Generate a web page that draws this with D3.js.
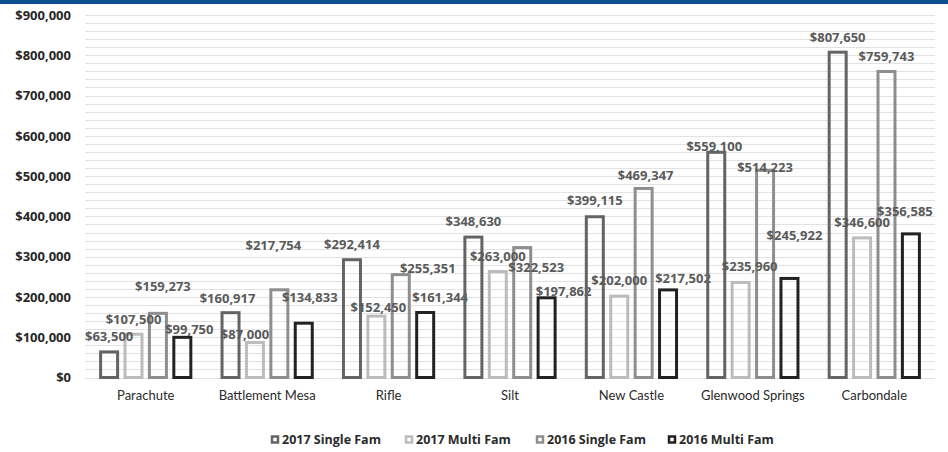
<!DOCTYPE html>
<html>
<head>
<meta charset="utf-8">
<script src="https://cdnjs.cloudflare.com/ajax/libs/d3/7.8.5/d3.min.js"></script>
<style>
  html, body { margin: 0; padding: 0; background: #ffffff; }
  svg { display: block; font-family: "Open Sans", Lato, sans-serif; }
</style>
</head>
<body>
<svg id="chart" width="948" height="452"></svg>
<script>
// Median sale prices by town
const categories = ["Parachute", "Battlement Mesa", "Rifle", "Silt", "New Castle", "Glenwood Springs", "Carbondale"];
const seriesNames = ["2017 Single Fam", "2017 Multi Fam", "2016 Single Fam", "2016 Multi Fam"];
const singleFam2017 = [63500, 160917, 292414, 348630, 399115, 559100, 807650];
const multiFam2017  = [107500, 87000, 152450, 263000, 202000, 235960, 346600];
const singleFam2016 = [159273, 217754, 255351, 322523, 469347, 514223, 759743];
const multiFam2016  = [99750, 134833, 161344, 197862, 217502, 245922, 356585];
const yTicks = [0, 100000, 200000, 300000, 400000, 500000, 600000, 700000, 800000, 900000];

// hand-placed data labels: shift [dx, dy] away from the default spot above each bar
const labelNudge = [
  [[0, 0], [-3, 1], [0, 0], [0, -1], [0, -1], [-2, 9], [0, 0]],
  [[0, 0], [-10, 7], [2, 6], [0, 0], [0, -1], [9, -1], [0, 0]],
  [[5, -12], [-6, -29], [27, 9], [14, 35], [2, 2], [0, 12], [0, 0]],
  [[7, 7], [6, -11], [15, 0], [17, 9], [15, 4], [5, -28], [-6, -7]]
];

const seriesValues = [singleFam2017, multiFam2017, singleFam2016, multiFam2016];
const seriesColors = ["#646464", "#bcbcbc", "#8e8e8e", "#222222"];
const boldFont = "'Open Sans', sans-serif";

const svg = d3.select("#chart");

// top band
svg.append("rect").attr("x", 0).attr("y", 0).attr("width", 948).attr("height", 4).attr("fill", "#0a4f8e");

const y = d3.scaleLinear().domain([0, 900000]).range([377.5, 15]);
const x0 = d3.scaleBand().domain(categories).range([85, 935]).paddingInner(0.196).paddingOuter(0.098);
const x1 = d3.scaleBand().domain(d3.range(seriesNames.length)).range([0, x0.bandwidth()]);
const barW = 17;

// gridlines every 20,000
const gridTicks = d3.range(0, 900001, 20000);
svg.append("g").selectAll("line").data(gridTicks).join("line")
  .attr("x1", 85).attr("x2", 935)
  .attr("y1", d => Math.round(y(d)) + 0.5).attr("y2", d => Math.round(y(d)) + 0.5)
  .attr("stroke", "#e2e2e2").attr("stroke-width", 1);

// y axis labels
const yAxis = d3.axisLeft(y).tickValues(yTicks).tickSize(0).tickPadding(0)
  .tickFormat(d => "$" + d3.format(",")(d));
const ya = svg.append("g").attr("transform", "translate(71,0)").call(yAxis);
ya.select(".domain").remove();
ya.selectAll("text").attr("font-family", boldFont).attr("font-size", 13)
  .attr("font-weight", "bold").attr("fill", "#262626");

// category axis labels
const xAxis = d3.axisBottom(x0).tickSize(0).tickPadding(0);
const xa = svg.append("g").attr("transform", "translate(0,391)").call(xAxis);
xa.select(".domain").remove();
xa.selectAll("text").attr("font-family", "Lato, sans-serif").attr("font-size", 13)
  .attr("fill", "#2a2a2a");

// bars
const groups = svg.append("g").selectAll("g").data(categories).join("g")
  .attr("transform", d => `translate(${x0(d)},0)`);

seriesValues.forEach((vals, s) => {
  groups.append("rect")
    .attr("x", x1(s) + (x1.bandwidth() - barW) / 2)
    .attr("y", (d, i) => y(vals[i]))
    .attr("width", barW)
    .attr("height", (d, i) => y(0) - y(vals[i]))
    .attr("fill", "none")
    .attr("stroke", seriesColors[s])
    .attr("stroke-width", 3);
});

// data labels
seriesValues.forEach((vals, s) => {
  groups.append("text")
    .attr("x", (d, i) => x1(s) + x1.bandwidth() / 2 + labelNudge[s][i][0])
    .attr("y", (d, i) => y(vals[i]) - 15 + labelNudge[s][i][1])
    .attr("dy", "0.35em")
    .attr("text-anchor", "middle")
    .attr("font-family", boldFont)
    .attr("font-size", 13).attr("font-weight", "bold").attr("fill", "#5a5a5a")
    .text((d, i) => "$" + d3.format(",")(vals[i]));
});

// legend
const legendX = [271, 405, 536, 668];
const legend = svg.append("g").selectAll("g").data(seriesNames).join("g")
  .attr("transform", (d, i) => `translate(${legendX[i]},440)`);
legend.append("rect").attr("x", 1).attr("y", -3.5).attr("width", 6).attr("height", 6)
  .attr("fill", "#ffffff").attr("stroke", (d, i) => seriesColors[i]).attr("stroke-width", 2.5);
legend.append("text").attr("x", 11).attr("dy", "0.35em")
  .attr("font-family", boldFont)
  .attr("font-size", 12.5).attr("font-weight", "bold").attr("fill", "#2a2a2a")
  .text(d => d);
</script>
</body>
</html>
